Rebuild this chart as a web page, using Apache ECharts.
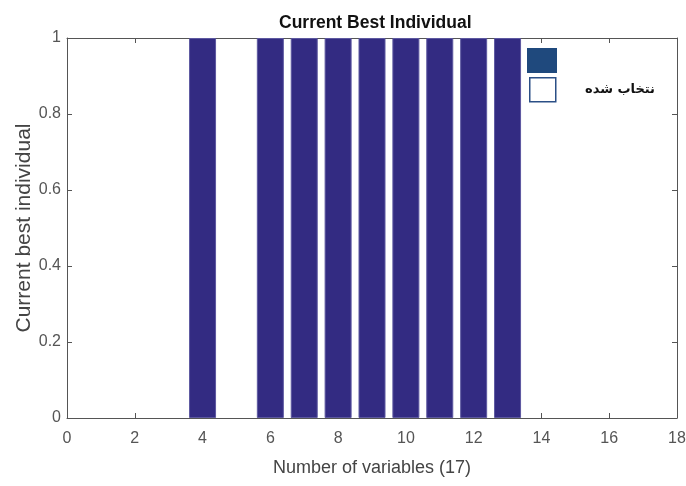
<!DOCTYPE html>
<html><head><meta charset="utf-8">
<script src="https://cdn.jsdelivr.net/npm/echarts@6/dist/echarts.min.js"></script>
<style>html,body{margin:0;padding:0;background:#fff}#c{width:686px;height:486px}</style>
</head><body><div id="c"></div>
<script>
const variables = [4, 6, 7, 8, 9, 10, 11, 12, 13];
const bestValues = [1, 1, 1, 1, 1, 1, 1, 1, 1];
const xTicks = [0, 2, 4, 6, 8, 10, 12, 14, 16, 18];
const yTicks = [0, 0.2, 0.4, 0.6, 0.8, 1];
const titleText = 'Current Best Individual';
const xName = 'Number of variables (17)';
const yName = 'Current best individual';
const legendLabel = 'نتخاب شده';

const chart = echarts.init(document.getElementById('c'));
const axisCol = '#555';
const labelCol = '#555';
const fontFam = 'Liberation Sans, Arial, sans-serif';
function common() {
  return {
    axisLine: {show: true, onZero: false, lineStyle: {color: axisCol, width: 1}},
    axisTick: {show: true, inside: true, length: 5, lineStyle: {color: axisCol}},
    splitLine: {show: false}
  };
}
chart.setOption({
  animation: false,
  backgroundColor: '#fff',
  title: {text: titleText, left: 274, top: 9,
    textStyle: {fontFamily: fontFam, fontWeight: 'bold', fontSize: 17.5, color: '#111'}},
  grid: {left: 67, right: 9, top: 38, bottom: 68, containLabel: false, outerBoundsMode: 'none'},
  xAxis: [
    Object.assign({type: 'value', min: 0, max: 18, interval: 2, position: 'bottom',
      name: xName, nameLocation: 'middle', nameGap: 41, nameMoveOverlap: false,
      nameTextStyle: {fontFamily: fontFam, fontSize: 18, color: '#444'},
      axisLabel: {fontFamily: fontFam, fontSize: 16, color: labelCol, margin: 13,
        formatter: v => xTicks.includes(v) ? String(v) : ''}}, common()),
    Object.assign({type: 'value', min: 0, max: 18, interval: 2, position: 'top',
      axisLabel: {show: false}}, common())
  ],
  yAxis: [
    Object.assign({type: 'value', min: 0, max: 1, interval: 0.2, position: 'left',
      name: yName, nameLocation: 'middle', nameGap: 32, nameRotate: 90, nameMoveOverlap: false,
      nameTextStyle: {fontFamily: fontFam, fontSize: 21, color: '#444'},
      axisLabel: {fontFamily: fontFam, fontSize: 16, color: labelCol, margin: 6,
        formatter: v => { const t = yTicks.find(y => Math.abs(y - v) < 1e-9); return t === undefined ? '' : String(t); }}}, common()),
    Object.assign({type: 'value', min: 0, max: 1, interval: 0.2, position: 'right',
      axisLabel: {show: false}}, common())
  ],
  series: [{
    type: 'bar',
    data: variables.map((v, i) => [v, bestValues[i]]),
    barWidth: 27,
    itemStyle: {color: '#332b82', borderColor: '#5d58a0', borderWidth: 1},
    emphasis: {disabled: true}
  }],
  graphic: [
    {type: 'rect', left: 527, top: 48, shape: {width: 30, height: 25}, style: {fill: '#1f497d'}},
    {type: 'rect', left: 529, top: 77, shape: {width: 26, height: 24}, style: {fill: '#fff', stroke: '#2b4f86', lineWidth: 1.5}},
    {type: 'text', right: 31, top: 83, style: {text: legendLabel, fill: '#111',
      font: 'bold 13px "DejaVu Sans", "Noto Sans", sans-serif'}}
  ]
});
</script></body></html>
